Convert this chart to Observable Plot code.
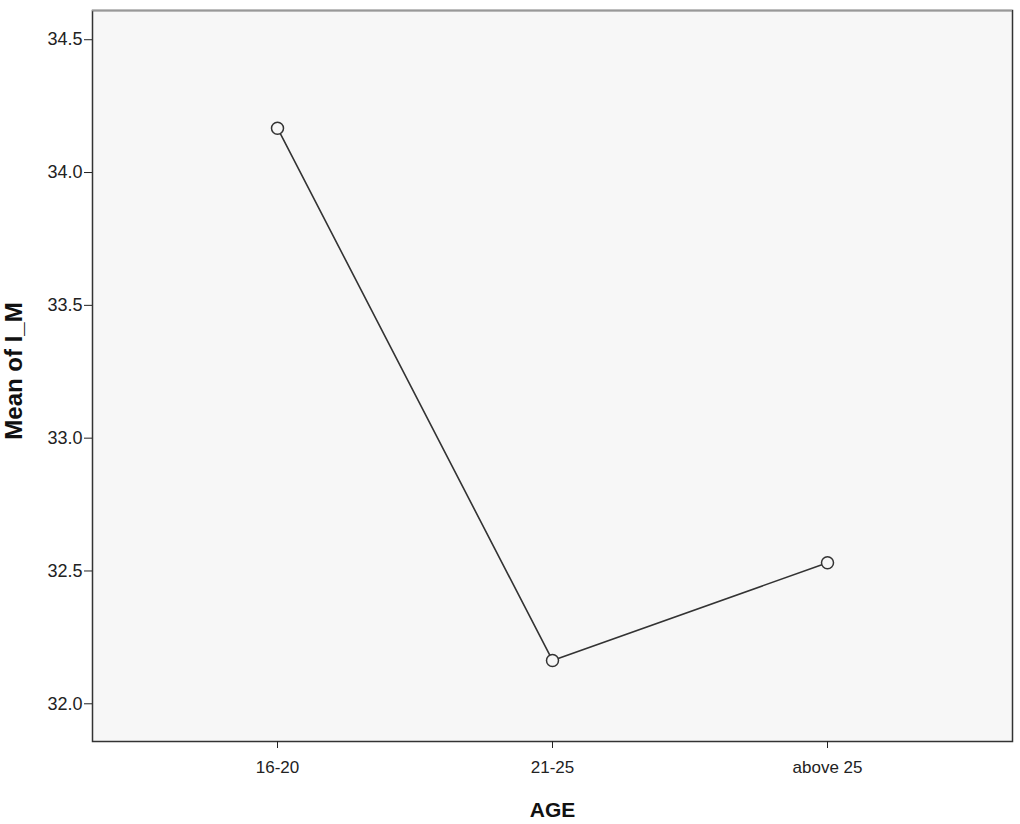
<!DOCTYPE html>
<html>
<head>
<meta charset="utf-8">
<script src="https://cdn.jsdelivr.net/npm/d3@7"></script>
<script src="https://cdn.jsdelivr.net/npm/@observablehq/plot@0.6"></script>
<style>
  html, body { margin: 0; padding: 0; background: #fff; }
  #chart svg { display: block; font-family: "Liberation Sans", Arial, sans-serif; }
</style>
</head>
<body>
<div id="chart"></div>
<script>
const ageGroups = ["16-20", "21-25", "above 25"];
const meanIM = [34.167, 32.163, 32.531];
const yTicks = [32.0, 32.5, 33.0, 33.5, 34.0, 34.5];
const yDomain = [31.858, 34.61];
const xLabel = "AGE";
const yLabel = "Mean of I_M";

const data = ageGroups.map((g, i) => ({age: g, mean: meanIM[i]}));

const chart = Plot.plot({
  width: 1020,
  height: 824,
  marginLeft: 92,
  marginRight: 8,
  marginTop: 10,
  marginBottom: 83,
  style: {fontFamily: "'Liberation Sans', Arial, sans-serif", background: "#fff"},
  x: {type: "point", domain: ageGroups, padding: 0.67},
  y: {domain: yDomain},
  marks: [
    Plot.frame({fill: "#f7f7f7", stroke: "#333", strokeWidth: 1.5}),
    Plot.ruleY([yDomain[1]], {stroke: "#999", strokeWidth: 1.5}),
    Plot.axisY({ticks: yTicks, tickFormat: d3.format(".1f"), tickSize: 8, tickPadding: 2, fontSize: 18, color: "#222", label: null}),
    Plot.axisX({tickSize: 7, tickPadding: 12, fontSize: 17, color: "#222", label: null}),
    Plot.text([yLabel], {frameAnchor: "left", textAnchor: "middle", lineAnchor: "middle", rotate: -90, dx: -78, dy: -5, fontSize: 24, fontWeight: "bold", fill: "#111"}),
    Plot.text([xLabel], {frameAnchor: "bottom", textAnchor: "middle", lineAnchor: "middle", dy: 69, fontSize: 21, fontWeight: "bold", fill: "#111"}),
    Plot.line(data, {x: "age", y: "mean", stroke: "#333", strokeWidth: 1.6}),
    Plot.dot(data, {x: "age", y: "mean", r: 6, stroke: "#333", strokeWidth: 1.5, fill: "#f7f7f7"})
  ]
});
document.getElementById("chart").appendChild(chart);
</script>
</body>
</html>
